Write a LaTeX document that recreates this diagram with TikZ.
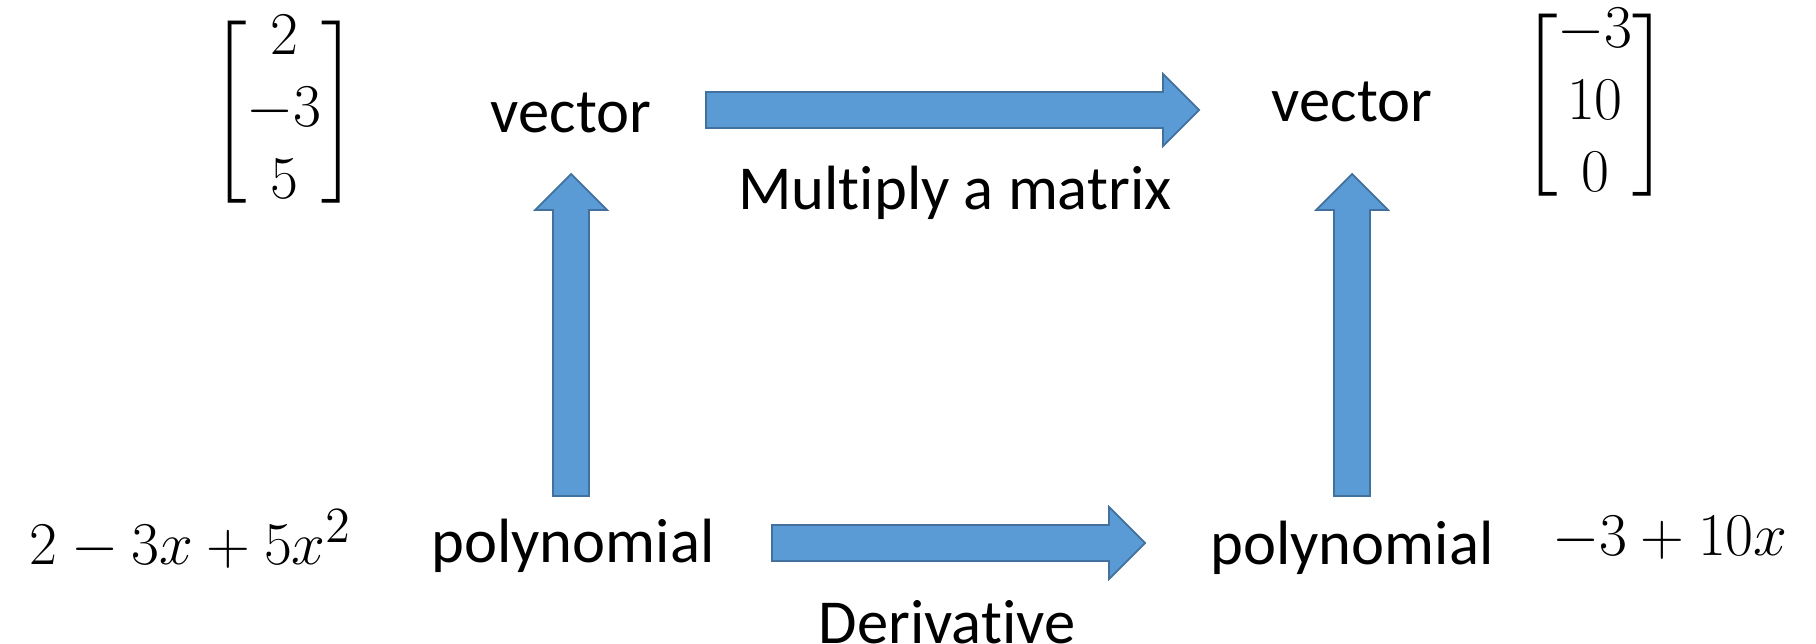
\documentclass[tikz,border=0pt]{standalone}
\usepackage{amsmath}
\usepackage[no-math]{fontspec}
\setmainfont{Carlito}[Ligatures=NoCommon]
\usetikzlibrary{calc}

\definecolor{arrowfill}{HTML}{5B9BD5}
\definecolor{arrowline}{HTML}{41719C}

\tikzset{
  lbl/.style={inner sep=0pt, font=\fontsize{17.8}{19.5}\selectfont},
  mathlbl/.style={inner sep=0pt, font=\fontsize{19}{20.5}\selectfont},
  blockarrow/.style={fill=arrowfill, draw=arrowline, line width=0.5pt, line join=miter}
}

% column vector, brackets a bit shorter than the rows
\newcommand{\colvec}[1]{\left[\vphantom{\rule[-23.5pt]{0pt}{55pt}}%
  \smash{\begin{matrix}#1\end{matrix}}\right]}

% fat arrow from #1 to #2
\newcommand{\fatarrow}[2]{%
  \coordinate (#1-hb) at ($(#2)!0.36cm!(#1)$);
  \filldraw[blockarrow] ($(#1)!0.18cm!90:(#2)$) -- ($(#1-hb)!0.18cm!90:(#2)$)
    -- ($(#1-hb)!0.36cm!90:(#2)$) -- (#2) -- ($(#1-hb)!0.36cm!-90:(#2)$)
    -- ($(#1-hb)!0.18cm!-90:(#2)$) -- ($(#1)!0.18cm!-90:(#2)$) -- cycle;}

\begin{document}
\begin{tikzpicture}
            \useasboundingbox (0,0) rectangle (18.16,-6.44);
            % top row
            \node at (2.84,-1.13) [mathlbl] (vecLval) {$\colvec{2\\-3\\5}$};
            \node at (5.71,-1.13) [lbl] (vecL) {vector};
            \node at (9.55,-1.93) [lbl] (mult) {Multiply a matrix};
            \node at (13.52,-1.02) [lbl] (vecR) {vector};
            \node at (15.95,-1.06) [mathlbl] (vecRval) {$\colvec{-3\\10\\0}$};
            % bottom row
            \node at (1.91,-5.40) [mathlbl] (polyLval) {$2-3x+5x^2$};
            \node at (5.73,-5.46) [lbl] (polyL) {polynomial};
            \node at (9.47,-6.22) [lbl] (deriv) {Derivative};
            \node at (13.52,-5.48) [lbl] (polyR) {polynomial};
            \node at (16.70,-5.38) [mathlbl] (polyRval) {$-3+10x$};
            % arrow ends
            \coordinate (mulS) at (7.06,-1.10);
            \coordinate (mulE) at (11.99,-1.10);
            \coordinate (derS) at (7.72,-5.43);
            \coordinate (derE) at (11.45,-5.43);
            \coordinate (upLS) at (5.71,-4.96);
            \coordinate (upLE) at (5.71,-1.74);
            \coordinate (upRS) at (13.52,-4.96);
            \coordinate (upRE) at (13.52,-1.74);
            \fatarrow{mulS}{mulE}
            \fatarrow{derS}{derE}
            \fatarrow{upLS}{upLE}
            \fatarrow{upRS}{upRE}
        \end{tikzpicture}
\end{document}
